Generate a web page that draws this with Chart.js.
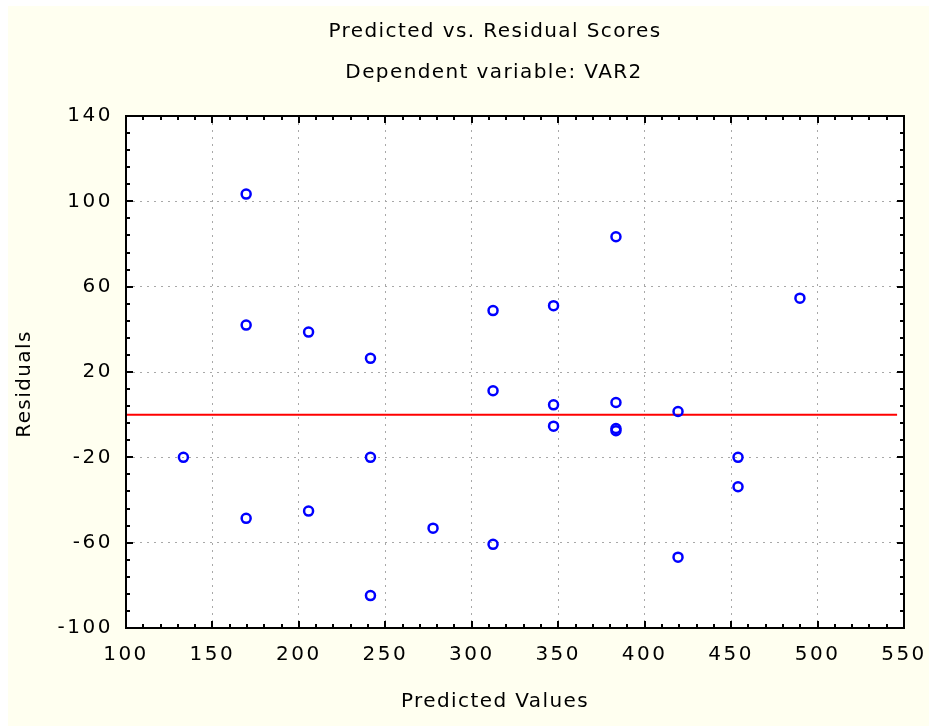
<!DOCTYPE html>
<html>
<head>
<meta charset="utf-8">
<title>Predicted vs. Residual Scores</title>
<script src="https://cdn.jsdelivr.net/npm/chart.js@4.4.0/dist/chart.umd.min.js"></script>
<style>
  html, body { margin: 0; padding: 0; background: #ffffff; overflow: hidden; }
  #frame { position: absolute; left: 8px; top: 6px; width: 921px; height: 720px; background: #fffff0; }
</style>
</head>
<body>
<div id="frame"><canvas id="residChart" width="921" height="720"></canvas></div>
<script>
// values
var predicted = [133.2, 169.5, 169.5, 169.5, 205.6, 205.6, 241.4, 241.4, 241.4, 277.6,
                 312.3, 312.3, 312.3, 347.3, 347.3, 347.3, 383.4, 383.4, 383.4, 383.4,
                 419.3, 419.3, 454, 454, 489.8];
var residuals = [-20, 103.4, 42, -48.6, 38.7, -45.2, 26.4, -20, -84.8, -53.2,
                 48.8, 11.2, -60.8, 51.1, 4.6, -5.4, 83.4, 5.7, -6.5, -7.5,
                 1.5, -66.8, -20, -33.8, 54.6];
var xTicks = [100, 150, 200, 250, 300, 350, 400, 450, 500, 550];
var yTicks = [-100, -60, -20, 20, 60, 100, 140];
var zeroLineX = [100, 546];

var chartTitle = 'Predicted vs. Residual Scores';
var chartSubtitle = 'Dependent variable: VAR2';
var xLabel = 'Predicted Values';
var yLabel = 'Residuals';

var FONT = '"DejaVu Sans"';

var frameAndLabels = {
    id: 'frameAndLabels',
    beforeDraw: function (chart) {
        var ctx = chart.ctx, a = chart.chartArea;
        ctx.save();
        ctx.fillStyle = '#fffff0';
        ctx.fillRect(0, 0, chart.width, chart.height);
        ctx.fillStyle = '#ffffff';
        ctx.fillRect(a.left, a.top, a.right - a.left, a.bottom - a.top);
        ctx.restore();
        // tick labels are spaced out in the original
        ctx.letterSpacing = '2.5px';
    },
    afterDraw: function (chart) {
        var ctx = chart.ctx, a = chart.chartArea;
        var xs = chart.scales.x, ys = chart.scales.y;
        var v, p, len;

        ctx.save();
        ctx.strokeStyle = '#000000';
        ctx.lineWidth = 2;
        ctx.strokeRect(a.left, a.top, a.right - a.left, a.bottom - a.top);

        // inward ticks on all four sides
        ctx.beginPath();
        for (v = xs.min; v <= xs.max; v += 10) {
            p = Math.round(xs.getPixelForValue(v));
            len = (v % 50 === 0) ? 7 : 4;
            ctx.moveTo(p, a.bottom); ctx.lineTo(p, a.bottom - len);
            ctx.moveTo(p, a.top); ctx.lineTo(p, a.top + len);
        }
        for (v = ys.min; v <= ys.max; v += 8) {
            p = Math.round(ys.getPixelForValue(v));
            len = ((v - ys.min) % 40 === 0) ? 7 : 4;
            ctx.moveTo(a.left, p); ctx.lineTo(a.left + len, p);
            ctx.moveTo(a.right, p); ctx.lineTo(a.right - len, p);
        }
        ctx.stroke();

        ctx.fillStyle = '#000000';
        ctx.font = '20px ' + FONT;
        ctx.letterSpacing = '1.4px';
        ctx.textAlign = 'center';
        ctx.textBaseline = 'middle';
        ctx.fillText(chartTitle, 487, 26);
        ctx.fillText(chartSubtitle, 486, 67);
        ctx.fillText(xLabel, 487, 696);

        ctx.translate(17, 378);
        ctx.rotate(-Math.PI / 2);
        ctx.fillText(yLabel, 0, 0);
        ctx.restore();
    }
};

var points = predicted.map(function (x, i) {
    return { x: x, y: residuals[i] };
});

var ctx = document.getElementById('residChart').getContext('2d');
var myChart = new Chart(ctx, {
    type: 'scatter',
    data: {
        datasets: [{
            type: 'scatter',
            label: 'Residuals',
            data: points,
            pointStyle: 'circle',
            pointRadius: 4.5,
            pointBorderWidth: 2.5,
            borderColor: '#0000ff',
            backgroundColor: 'rgba(0,0,0,0)',
            order: 0
        }, {
            type: 'line',
            label: 'Zero',
            data: zeroLineX.map(function (x) { return { x: x, y: 0 }; }),
            borderColor: '#ff0000',
            borderWidth: 2,
            pointRadius: 0,
            fill: false,
            order: 1
        }]
    },
    options: {
        responsive: false,
        animation: false,
        layout: {
            padding: { top: 110, right: 25, bottom: 0, left: 0 }
        },
        plugins: {
            legend: { display: false },
            tooltip: { enabled: false },
            title: { display: false }
        },
        scales: {
            x: {
                type: 'linear',
                min: 100,
                max: 550,
                afterFit: function (scale) {
                    scale.height = 98;
                    scale.paddingLeft = 0;
                    scale.paddingRight = 0;
                },
                afterBuildTicks: function (scale) {
                    scale.ticks = xTicks.map(function (v) { return { value: v }; });
                },
                grid: {
                    color: '#a8a8a8',
                    lineWidth: 1,
                    drawTicks: false
                },
                border: { display: false, dash: [2, 5] },
                ticks: {
                    padding: 15,
                    autoSkip: false,
                    maxRotation: 0,
                    color: '#000000',
                    font: { family: FONT, size: 20 }
                }
            },
            y: {
                type: 'linear',
                min: -100,
                max: 140,
                afterFit: function (scale) {
                    scale.width = 118;
                    scale.paddingTop = 0;
                    scale.paddingBottom = 0;
                },
                afterBuildTicks: function (scale) {
                    scale.ticks = yTicks.map(function (v) { return { value: v }; });
                },
                grid: {
                    color: '#a8a8a8',
                    lineWidth: 1,
                    drawTicks: false
                },
                border: { display: false, dash: [2, 5] },
                ticks: {
                    padding: 13,
                    color: '#000000',
                    font: { family: FONT, size: 20 }
                }
            }
        }
    },
    plugins: [frameAndLabels]
});
</script>
</body>
</html>
